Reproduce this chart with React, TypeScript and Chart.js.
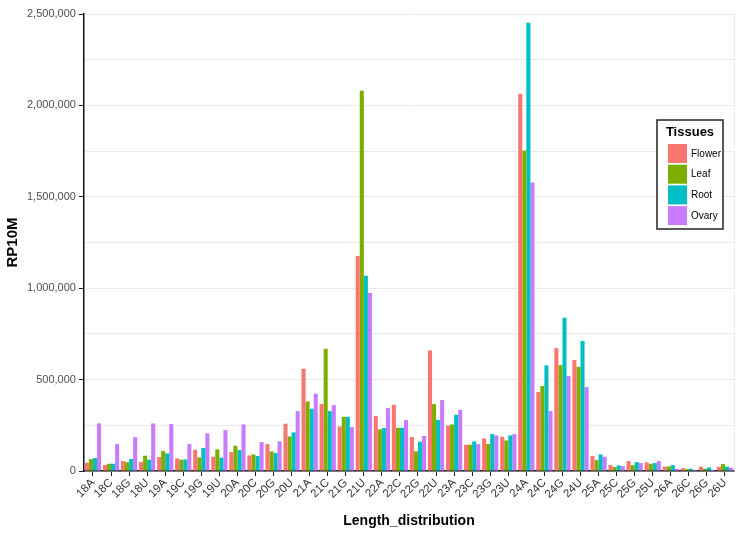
import React, { useEffect, useRef } from "react";
import { Chart, registerables } from "chart.js";

Chart.register(...registerables);

const categories = ["18A","18C","18G","18U","19A","19C","19G","19U","20A","20C","20G","20U","21A","21C","21G","21U","22A","22C","22G","22U","23A","23C","23G","23U","24A","24C","24G","24U","25A","25C","25G","25U","26A","26C","26G","26U"];

const flower = [45600,32800,54700,49000,76600,69300,116700,78400,104000,85700,147700,259000,559700,366400,244000,1176000,300800,362700,186000,660000,248000,144000,178600,187800,2064000,432000,672700,607000,82000,32800,54700,47400,23700,16400,23700,23700];
const leaf = [65600,40000,49000,84000,109400,62000,74700,118500,138500,91000,107600,189600,381000,669000,297000,2080000,227900,237000,107600,366400,255000,144000,147700,167700,1754000,465000,579700,570600,60000,21900,32800,40000,25500,10900,12800,38300];
const root = [71000,40000,65600,62000,96600,63800,125800,72900,114800,82000,98400,211500,341000,328000,297000,1068000,235000,237000,160400,279000,308000,162000,202000,195000,2452000,578000,838600,711000,91000,31000,49000,43700,32800,12800,20000,23700];
const ovary = [260700,147700,186000,260700,257000,147700,206000,224000,255000,158600,162000,328000,423000,361000,240600,973700,344500,279000,193000,388300,335000,147700,195000,202000,1579000,328000,519600,459400,78400,27300,43700,54700,12800,5500,7300,18200];

const seriesNames = ["Flower", "Leaf", "Root", "Ovary"];
const seriesColors = ["#F8766D", "#7CAE00", "#00BFC4", "#C77CFF"];
const yTicks = [0, 500000, 1000000, 1500000, 2000000, 2500000];

const FONT = "'Liberation Sans', Arial, sans-serif";

const legendPlugin = {
  id: "tissuesLegend",
  afterDraw(chart: any) {
    const ctx = chart.ctx;
    const x = 657, y = 120, w = 66, h = 109;
    ctx.save();
    ctx.fillStyle = "#ffffff";
    ctx.fillRect(x, y, w, h);
    ctx.strokeStyle = "#222";
    ctx.lineWidth = 1.5;
    ctx.strokeRect(x, y, w, h);
    ctx.fillStyle = "#000";
    ctx.font = `bold 13px ${FONT}`;
    ctx.textAlign = "center";
    ctx.textBaseline = "middle";
    ctx.fillText("Tissues", x + w / 2, y + 12);
    ctx.font = `10px ${FONT}`;
    ctx.textAlign = "left";
    chart.data.datasets.forEach((ds: any, i: number) => {
      const sy = y + 24 + i * 20.7;
      ctx.fillStyle = ds.backgroundColor;
      ctx.fillRect(x + 11, sy, 19, 19);
      ctx.fillStyle = "#000";
      ctx.fillText(ds.label, x + 34, sy + 10);
    });
    ctx.restore();
  },
};

const rightEdgePlugin = {
  id: "rightEdge",
  beforeDatasetsDraw(chart: any) {
    const { ctx, chartArea } = chart;
    ctx.save();
    ctx.strokeStyle = "#ebebeb";
    ctx.lineWidth = 1;
    ctx.beginPath();
    ctx.moveTo(chartArea.right + 0.5, chartArea.top);
    ctx.lineTo(chartArea.right + 0.5, chartArea.bottom);
    ctx.stroke();
    ctx.restore();
  },
};

export default function App() {
  const ref = useRef<HTMLCanvasElement>(null);
  useEffect(() => {
    document.body.style.margin = "0";
    const seriesData = [flower, leaf, root, ovary];
    const chart = new Chart(ref.current!, {
      type: "bar",
      data: {
        labels: categories,
        datasets: seriesNames.map((name, i) => ({
          label: name,
          data: seriesData[i],
          backgroundColor: seriesColors[i],
          borderWidth: 0,
          barPercentage: 1.0,
          categoryPercentage: 0.9,
        })),
      },
      options: {
        animation: false,
        responsive: false,
        maintainAspectRatio: false,
        layout: { padding: { top: 14, right: 12, left: 4, bottom: 5 } },
        plugins: {
          legend: { display: false },
          tooltip: { enabled: false },
        },
        scales: {
          x: {
            offset: true,
            grid: {
              offset: false,
              drawOnChartArea: false,
              tickLength: 5,
              tickColor: "#222",
              tickWidth: 1,
            },
            border: { color: "#111", width: 1.5 },
            ticks: {
              minRotation: 45,
              maxRotation: 45,
              color: "#333",
              font: { family: FONT, size: 11.5 },
              padding: 0,
              autoSkip: false,
            },
            title: {
              display: true,
              text: "Length_distribution",
              color: "#000",
              font: { family: FONT, size: 14, weight: "bold" },
              padding: { top: 12, bottom: 0 },
            },
          },
          y: {
            min: 0,
            max: 2500000,
            afterBuildTicks: (axis: any) => {
              const t: any[] = [];
              for (let v = 0; v <= 2500000; v += 250000) t.push({ value: v });
              axis.ticks = t;
            },
            grid: {
              color: "#ebebeb",
              lineWidth: 1,
              tickLength: 5,
              tickColor: (c: any) => (yTicks.includes(c.tick?.value) ? "#222" : "rgba(0,0,0,0)"),
            },
            border: { color: "#111", width: 1.5 },
            ticks: {
              color: "#4d4d4d",
              font: { family: FONT, size: 11 },
              padding: 3,
              autoSkip: false,
              callback: (v: any) => (yTicks.includes(Number(v)) ? Number(v).toLocaleString("en-US") : ""),
            },
            title: {
              display: true,
              text: "RP10M",
              color: "#000",
              font: { family: FONT, size: 15, weight: "bold" },
              padding: { top: 0, bottom: 2 },
            },
          },
        },
      },
      plugins: [rightEdgePlugin, legendPlugin],
    } as any);
    return () => chart.destroy();
  }, []);
  return (
    <div style={{ position: "absolute", left: 0, top: 0, width: 746, height: 535 }}>
      <canvas ref={ref} width={746} height={535} style={{ width: 746, height: 535 }} />
    </div>
  );
}
